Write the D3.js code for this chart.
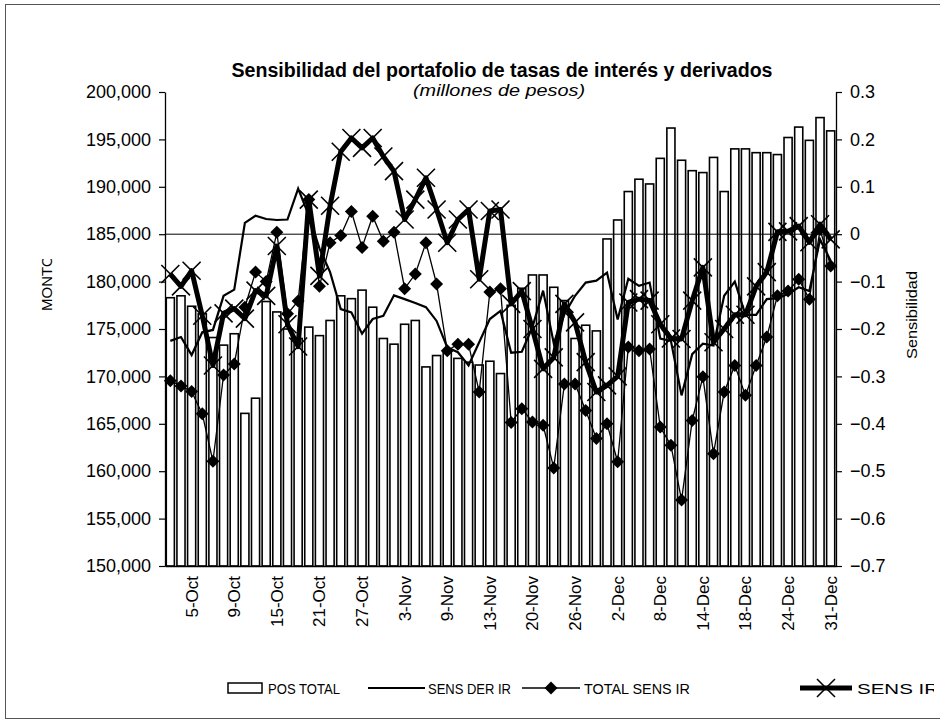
<!DOCTYPE html>
<html>
<head>
<meta charset="utf-8">
<script src="https://cdn.jsdelivr.net/npm/d3@7"></script>
<style>
body { margin: 0; background: #fff; }
text { font-family: Arial, "Liberation Sans", sans-serif; fill: #000; }
</style>
</head>
<body>
<svg width="940" height="724"></svg>
<script>
var dates = ["1-Oct","2-Oct","5-Oct","6-Oct","7-Oct","8-Oct","9-Oct","12-Oct","13-Oct","14-Oct",
    "15-Oct","16-Oct","19-Oct","20-Oct","21-Oct","22-Oct","23-Oct","26-Oct","27-Oct","28-Oct",
    "29-Oct","30-Oct","3-Nov","4-Nov","5-Nov","6-Nov","9-Nov","10-Nov","11-Nov","12-Nov",
    "13-Nov","17-Nov","18-Nov","19-Nov","20-Nov","23-Nov","24-Nov","25-Nov","26-Nov","27-Nov",
    "30-Nov","1-Dec","2-Dec","3-Dec","4-Dec","7-Dec","8-Dec","9-Dec","10-Dec","11-Dec",
    "14-Dec","15-Dec","16-Dec","17-Dec","18-Dec","21-Dec","22-Dec","23-Dec","24-Dec","28-Dec",
    "29-Dec","30-Dec","31-Dec"];

// POS TOTAL (millones de pesos), left axis
var posTotal = [178300,178500,177400,176600,174100,173300,174500,166100,167700,177900,
    176800,175000,174000,175200,174300,175900,178500,178200,179100,177300,
    174000,173400,175500,175900,171000,172200,172700,171900,171500,171200,
    171600,170300,177500,179300,180700,180700,179400,178000,174000,175400,
    174800,184500,186500,189500,190800,190300,193000,196200,192800,191700,
    191500,193100,189500,194000,194000,193600,193600,193400,195200,196300,
    194900,197300,195900];

// sensitivities, right axis
var sensDerIr = [-0.225,-0.217,-0.255,-0.207,-0.202,-0.13,-0.117,0.024,0.039,0.032,
    0.030,0.031,0.096,0.04,-0.03,-0.08,-0.158,-0.165,-0.210,-0.179,
    -0.172,-0.129,-0.137,-0.145,-0.154,-0.183,-0.239,-0.249,-0.277,-0.228,
    -0.179,-0.162,-0.25,-0.248,-0.196,-0.119,-0.23,-0.169,-0.13,-0.102,
    -0.098,-0.081,-0.18,-0.094,-0.109,-0.102,-0.22,-0.225,-0.34,-0.253,
    -0.231,-0.235,-0.13,-0.10,-0.17,-0.17,-0.137,-0.135,-0.126,-0.112,
    -0.12,-0.011,-0.056];

var totalSensIr = [-0.309,-0.320,-0.332,-0.379,-0.479,-0.297,-0.274,-0.154,-0.080,-0.10,
    0.004,-0.168,-0.141,0.073,-0.11,-0.018,-0.003,0.048,-0.028,0.038,
    -0.015,0.004,-0.115,-0.084,-0.018,-0.105,-0.246,-0.232,-0.232,-0.333,
    -0.122,-0.115,-0.397,-0.368,-0.396,-0.403,-0.493,-0.316,-0.316,-0.372,
    -0.431,-0.400,-0.480,-0.238,-0.246,-0.242,-0.407,-0.445,-0.561,-0.393,
    -0.301,-0.463,-0.333,-0.277,-0.340,-0.277,-0.217,-0.130,-0.120,-0.095,
    -0.137,0.010,-0.067];

var sensIr = [-0.084,-0.11,-0.077,-0.172,-0.277,-0.167,-0.157,-0.178,-0.119,-0.13,
    -0.025,-0.19,-0.237,0.073,-0.088,0.06,0.174,0.203,0.182,0.203,
    0.164,0.133,0.031,0.073,0.119,0.052,-0.018,0.031,0.052,-0.095,
    0.049,0.052,-0.147,-0.12,-0.20,-0.284,-0.26,-0.147,-0.186,-0.270,
    -0.333,-0.319,-0.30,-0.144,-0.137,-0.140,-0.19,-0.22,-0.221,-0.14,
    -0.070,-0.228,-0.20,-0.17,-0.17,-0.11,-0.08,0.005,0.006,0.017,
    -0.017,0.021,-0.011];

var leftTicks = [150000,155000,160000,165000,170000,175000,180000,185000,190000,195000,200000];
var rightTicks = [-0.7,-0.6,-0.5,-0.4,-0.3,-0.2,-0.1,0,0.1,0.2,0.3];
var tickDates = dates.filter((d, i) => i % 4 === 2);

var svg = d3.select("svg"),
    plotLeft = 165, plotRight = 836, plotTop = 92, plotBottom = 566;

var x = d3.scaleBand().domain(dates).range([plotLeft, plotRight]).paddingInner(0.24).paddingOuter(0.12);
var yL = d3.scaleLinear().domain([150000, 200000]).range([plotBottom, plotTop]);
var yR = d3.scaleLinear().domain([-0.7, 0.3]).range([plotBottom, plotTop]);
var cx = d => x(d) + x.bandwidth() / 2;

svg.append("rect")
    .attr("x", 5.5).attr("y", 4.5)
    .attr("width", 940).attr("height", 714)
    .attr("fill", "none").attr("stroke", "#555");

var defs = svg.append("defs");
defs.append("clipPath").attr("id", "clipMonto")
    .append("rect").attr("x", 0).attr("y", 259).attr("width", 200).attr("height", 300);
defs.append("clipPath").attr("id", "clipLegend")
    .append("rect").attr("x", 0).attr("y", 600).attr("width", 934).attr("height", 124);

// title
svg.append("text")
    .attr("x", 502).attr("y", 77)
    .attr("text-anchor", "middle")
    .attr("font-size", 20).attr("font-weight", "bold")
    .attr("textLength", 541).attr("lengthAdjust", "spacingAndGlyphs")
    .text("Sensibilidad del portafolio de tasas de interés y derivados");
svg.append("text")
    .attr("x", 499).attr("y", 96)
    .attr("text-anchor", "middle")
    .attr("font-size", 17).attr("font-style", "italic")
    .attr("textLength", 172).attr("lengthAdjust", "spacingAndGlyphs")
    .text("(millones de pesos)");

// bars
svg.append("g")
    .selectAll("rect")
    .data(posTotal)
    .join("rect")
    .attr("x", (d, i) => x(dates[i]))
    .attr("y", d => yL(d))
    .attr("width", x.bandwidth())
    .attr("height", d => yL(150000) - yL(d))
    .attr("fill", "#fff")
    .attr("stroke", "#000")
    .attr("stroke-width", 1.6);

// axes
var axL = svg.append("g")
    .attr("transform", "translate(" + plotLeft + ",0)")
    .call(d3.axisLeft(yL).tickValues(leftTicks).tickFormat(d3.format(",")).tickSize(6).tickSizeOuter(0).tickPadding(8));
axL.selectAll("text").attr("font-size", 18).attr("font-family", null);

var axR = svg.append("g")
    .attr("transform", "translate(" + plotRight + ",0)")
    .call(d3.axisRight(yR).tickValues(rightTicks).tickFormat(d => d === 0 ? "0" : d3.format(".1f")(d)).tickSize(6).tickSizeOuter(0).tickPadding(8));
axR.selectAll("text").attr("font-size", 18).attr("font-family", null);

var axB = svg.append("g")
    .attr("transform", "translate(0," + plotBottom + ")")
    .call(d3.axisBottom(x).tickValues(tickDates).tickSize(0).tickSizeOuter(0));
axB.selectAll("text")
    .attr("font-size", 17).attr("font-family", null)
    .attr("transform", "rotate(-90)")
    .attr("x", -10).attr("y", 0).attr("dy", "0.35em")
    .attr("text-anchor", "end");

svg.selectAll(".domain").attr("stroke", "#000").attr("stroke-width", 1.3);
svg.selectAll(".tick line").attr("stroke", "#000").attr("stroke-width", 1.2);

// zero line of the right axis
svg.append("line")
    .attr("x1", plotLeft).attr("x2", plotRight)
    .attr("y1", yR(0)).attr("y2", yR(0))
    .attr("stroke", "#000").attr("stroke-width", 1);

var line = d3.line().x((d, i) => cx(dates[i])).y(d => yR(d));
var diamond = "M0,-6.5L6.5,0L0,6.5L-6.5,0Z";
var cross = "M-9,-9L9,9M-9,9L9,-9";

svg.append("path")
    .attr("d", line(sensDerIr))
    .attr("fill", "none").attr("stroke", "#000").attr("stroke-width", 2.2);

svg.append("path")
    .attr("d", line(totalSensIr))
    .attr("fill", "none").attr("stroke", "#000").attr("stroke-width", 1.3);
svg.append("g")
    .selectAll("path")
    .data(totalSensIr)
    .join("path")
    .attr("transform", (d, i) => "translate(" + cx(dates[i]) + "," + yR(d) + ")")
    .attr("d", diamond)
    .attr("fill", "#000");

svg.append("path")
    .attr("d", line(sensIr))
    .attr("fill", "none").attr("stroke", "#000").attr("stroke-width", 5)
    .attr("stroke-linejoin", "round");
svg.append("g")
    .selectAll("path")
    .data(sensIr)
    .join("path")
    .attr("transform", (d, i) => "translate(" + cx(dates[i]) + "," + yR(d) + ")")
    .attr("d", cross)
    .attr("fill", "none").attr("stroke", "#000").attr("stroke-width", 1.6);

// axis titles
svg.append("g").attr("clip-path", "url(#clipMonto)")
    .append("text")
    .attr("transform", "translate(52,311) rotate(-90)")
    .attr("font-size", 15)
    .text("MONTO");
svg.append("text")
    .attr("transform", "translate(917,315) rotate(-90)")
    .attr("text-anchor", "middle")
    .attr("font-size", 15)
    .attr("textLength", 88).attr("lengthAdjust", "spacingAndGlyphs")
    .text("Sensibilidad");

// legend
var lg = svg.append("g").attr("clip-path", "url(#clipLegend)").attr("font-size", 15);
var ly = 688;
lg.append("rect").attr("x", 228).attr("y", ly - 5).attr("width", 34).attr("height", 10)
    .attr("fill", "#fff").attr("stroke", "#000").attr("stroke-width", 1.5);
lg.append("text").attr("x", 268).attr("y", ly + 5.5)
    .attr("textLength", 72).attr("lengthAdjust", "spacingAndGlyphs").text("POS TOTAL");

lg.append("line").attr("x1", 368).attr("x2", 425).attr("y1", ly).attr("y2", ly)
    .attr("stroke", "#000").attr("stroke-width", 2.2);
lg.append("text").attr("x", 428).attr("y", ly + 5.5)
    .attr("textLength", 83).attr("lengthAdjust", "spacingAndGlyphs").text("SENS DER IR");

lg.append("line").attr("x1", 522).attr("x2", 580).attr("y1", ly).attr("y2", ly)
    .attr("stroke", "#000").attr("stroke-width", 1.3);
lg.append("path").attr("transform", "translate(551," + ly + ")").attr("d", diamond).attr("fill", "#000");
lg.append("text").attr("x", 584).attr("y", ly + 5.5)
    .attr("textLength", 106).attr("lengthAdjust", "spacingAndGlyphs").text("TOTAL SENS IR");

lg.append("line").attr("x1", 800).attr("x2", 852).attr("y1", ly).attr("y2", ly)
    .attr("stroke", "#000").attr("stroke-width", 5);
lg.append("path").attr("transform", "translate(826," + ly + ")").attr("d", cross)
    .attr("fill", "none").attr("stroke", "#000").attr("stroke-width", 1.6);
lg.append("text").attr("x", 857).attr("y", ly + 5.5)
    .attr("textLength", 82).attr("lengthAdjust", "spacingAndGlyphs").text("SENS IR");
</script>
</body>
</html>
